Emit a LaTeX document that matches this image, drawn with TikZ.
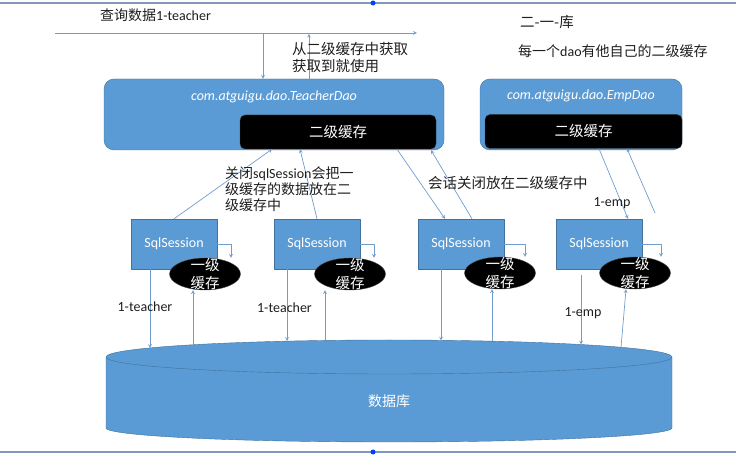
\documentclass[tikz,border=0pt]{standalone}
\usepackage{fontspec}
\setmainfont{Carlito}
\newfontfamily\zh{Noto Sans CJK SC}
\usetikzlibrary{shapes.geometric}
\definecolor{ppblue}{RGB}{91,155,213}
\definecolor{ppedge}{RGB}{65,113,156}
\definecolor{lineblue}{RGB}{112,156,206}
\definecolor{framegray}{RGB}{128,152,186}
\definecolor{txtgray}{RGB}{30,30,30}
\tikzset{
  arr/.style={->,draw=lineblue,line width=0.7pt},
  daobox/.style={draw=ppedge,fill=ppblue,rounded corners=10pt,minimum height=71pt,inner sep=0pt},
  daoname/.style={text=white,font=\fontsize{14}{17}\selectfont\itshape},
  cachebox/.style={draw=black!75,fill=black,rounded corners=5pt,minimum height=34pt,inner sep=0pt,text=white,font=\zh\fontsize{14.5}{17}\selectfont},
  sess/.style={draw=ppedge,fill=ppblue,text=white,minimum width=86pt,minimum height=50pt,inner sep=0pt},
  lonetxt/.style={text=white,align=center,inner sep=0pt,font=\zh\fontsize{14.5}{18}\selectfont},
  lone/.style={ellipse,draw=black!70,fill=black,minimum width=71pt,minimum height=32pt,inner sep=0pt,
    label={[lonetxt]center:一级\\缓存}},
  note/.style={text=txtgray,inner sep=0pt,align=left}
}
\begin{document}
\begin{tikzpicture}[x=1pt,y=1pt,>=stealth,line join=round,font=\fontsize{14}{17}\selectfont]
		\useasboundingbox (0,0) rectangle (736,455);
		% slide frame
		\draw[framegray,line width=2.5pt] (0,452)--(736,452);
		\draw[framegray,line width=2.5pt] (0,3)--(736,3);
		\fill[blue!75!cyan] (373,452) circle (2.5);
		\fill[blue!75!cyan] (373,3) circle (2.5);
		% database
		\fill[ppblue] (106,98)--(106,27) arc[start angle=180,end angle=360,x radius=283,y radius=14]
		  --(672,98) arc[start angle=0,end angle=180,x radius=283,y radius=17]--cycle;
		\draw[ppedge] (106,98)--(106,27) arc[start angle=180,end angle=360,x radius=283,y radius=14]
		  --(672,98) arc[start angle=0,end angle=360,x radius=283,y radius=17];
		\node[text=white,inner sep=0pt] (db) at (389,54) {\zh 数据库};
		% dao boxes
		\node[daobox,minimum width=340pt] (tdao) at (274,340.5) {};
		\node[daoname] (tdaoname) at (274,358) {com.atguigu.dao.TeacherDao};
		\node[cachebox,minimum width=196pt] (tcache) at (338,323) {二级缓存};
		\node[daobox,minimum width=202pt] (edao) at (581,340.5) {};
		\node[daoname] (edaoname) at (581,359) {com.atguigu.dao.EmpDao};
		\node[cachebox,minimum width=197pt] (ecache) at (583.5,323.5) {二级缓存};
		% sessions and first level caches
		\node[sess] (s1) at (174,211) {SqlSession};
		\node[sess] (s2) at (317,211) {SqlSession};
		\node[sess] (s3) at (461,211) {SqlSession};
		\node[sess] (s4) at (599,211) {SqlSession};
		\node[lone] (e1) at (205,181) {};
		\node[lone] (e2) at (350,181) {};
		\node[lone] (e3) at (500,182) {};
		\node[lone] (e4) at (635,182) {};
		\draw[arr] (s1.east) -| ([xshift=26pt]e1.north);
		\draw[arr] (s2.east) -| ([xshift=24pt]e2.north);
		\draw[arr] (s3.east) -| ([xshift=25pt]e3.north);
		\draw[arr] (s4.east) -| ([xshift=26pt]e4.north);
		% query line
		\coordinate (qs) at (55,422);
		\coordinate (qe) at (417,422);
		\coordinate (qd) at (263,422);
		\draw[arr] (qs)--(qe);
		\draw[arr] (qd)--(qd |- tdao.north);
		\draw[arr] ([xshift=35pt]tdao.north)--++(0,45);
		% points on top of the database
		\coordinate (d1) at (150,107);
		\coordinate (u1) at (193,110);
		\coordinate (d2) at (287,114);
		\coordinate (u2) at (325,114.5);
		\coordinate (d3) at (441,114.5);
		\coordinate (u3) at (492,114);
		\coordinate (d4) at (581,110.5);
		\coordinate (u4) at (621,107.5);
		\draw[arr] ([xshift=-24pt]s1.south)--(d1);
		\draw[arr] (u1)--(u1 |- e1.south);
		\draw[arr] ([xshift=-30pt]s2.south)--(d2);
		\draw[arr] (u2)--(u2 |- e2.south);
		\draw[arr] ([xshift=-20pt]s3.south)--(d3);
		\draw[arr] (u3)--(u3 |- e3.south);
		\draw[arr] ([xshift=-18pt,yshift=-6pt]s4.south)--(d4);
		\draw[arr] (u4)--([xshift=-9pt]e4.south);
		% sessions and second level caches
		\coordinate (ef) at (655,242);
		\draw[arr] (s1.north)--([xshift=-66pt]tcache.south);
		\draw[arr] (s2.north)--([xshift=-38pt]tcache.south);
		\draw[arr] ([xshift=59pt]tcache.south)--([xshift=-16pt]s3.north);
		\draw[arr] ([xshift=11pt]s3.north)--([xshift=157pt]tdao.south);
		\draw[arr] ([xshift=15.5pt]ecache.south)--([xshift=29pt]s4.north);
		\draw[arr] (ef)--([xshift=43.5pt]ecache.south);
		% labels
		\node[note,text=txtgray] (t1) at (145,148) {1-teacher};
		\node[note] (t2) at (284.5,147) {1-teacher};
		\node[note] (m1) at (583,142) {1-emp};
		\node[note] (m2) at (612,252) {1-emp};
		\node[note,anchor=west] (query) at (100,440) {{\zh 查询数据}1-teacher};
		\node[note,anchor=west,font=\zh\fontsize{14.5}{17}\selectfont] (fetch) at (292,397.5) {从二级缓存中获取\\获取到就使用};
		\node[note,anchor=west,font=\zh\fontsize{14.5}{17}\selectfont] (title) at (520,433) {二-一-库};
		\node[note,anchor=west] (each) at (518,404) {{\zh 每一个}dao{\zh 有他自己的二级缓存}};
		\node[note,anchor=west,font=\fontsize{14}{16}\selectfont] (close) at (225,266)
		  {{\zh 关闭}sqlSession{\zh 会把一}\\{\zh 级缓存的数据放在二}\\{\zh 级缓存中}};
		\node[note,anchor=west,font=\zh\fontsize{14.5}{17}\selectfont] (put) at (428,272) {会话关闭放在二级缓存中};
\end{tikzpicture}
\end{document}
